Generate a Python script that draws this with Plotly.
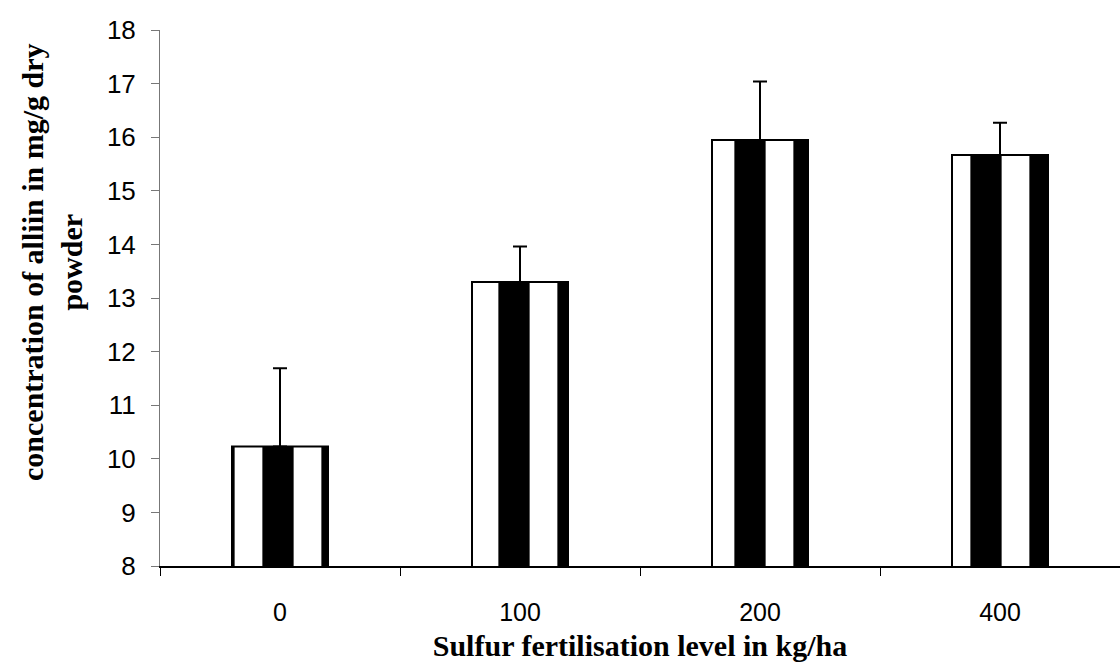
import plotly.graph_objects as go

categories = ["0", "100", "200", "400"]
alliin = [10.23, 13.30, 15.95, 15.67]
alliin_err = [1.46, 0.66, 1.09, 0.60]
y_ticks = [8, 9, 10, 11, 12, 13, 14, 15, 16, 17, 18]

fig = go.Figure()
fig.add_trace(go.Bar(
    x=categories, y=alliin,
    marker=dict(
        color="black",
        line=dict(color="black", width=2),
        pattern=dict(shape="|", size=59, solidity=0.47,
                     fgcolor="white", bgcolor="black", fillmode="replace"),
    ),
    error_y=dict(type="data", array=alliin_err, symmetric=False,
                 arrayminus=[0] * len(alliin_err),
                 color="black", thickness=2, width=7),
    showlegend=False,
))

fig.update_layout(
    width=1120, height=670,
    margin=dict(l=160, r=0, t=30, b=104),
    paper_bgcolor="white", plot_bgcolor="white",
    bargap=0.6,
    font=dict(family="Liberation Sans, Arial", color="black"),
    xaxis=dict(
        type="category", categoryorder="array", categoryarray=categories,
        showline=True, linecolor="black", linewidth=2,
        ticks="outside", tickson="boundaries", ticklen=8, tickcolor="black", tickwidth=1,
        tickfont=dict(size=25, family="Liberation Sans, Arial"),
        ticklabelstandoff=23,
        showgrid=False, zeroline=False,
        title=dict(text="<b>Sulfur fertilisation level in kg/ha</b>",
                   font=dict(size=30, family="Liberation Serif, Times New Roman"),
                   standoff=10),
    ),
    yaxis=dict(
        range=[8, 18], tickvals=y_ticks,
        showline=True, linecolor="#777", linewidth=1,
        ticks="outside", ticklen=8, tickcolor="#777", tickwidth=1,
        tickfont=dict(size=26, family="Liberation Sans, Arial"),
        ticklabelstandoff=10,
        showgrid=False, zeroline=False,
    ),
    annotations=[dict(
        text="<b>concentration of alliin in mg/g dry<br>powder</b>",
        textangle=-90, xref="paper", yref="paper",
        x=(52 - 160) / 960, y=(566 - 262) / 536,
        xanchor="center", yanchor="middle", showarrow=False,
        font=dict(size=30, family="Liberation Serif, Times New Roman", color="black"),
    )],
)

fig.write_html("out.html")
